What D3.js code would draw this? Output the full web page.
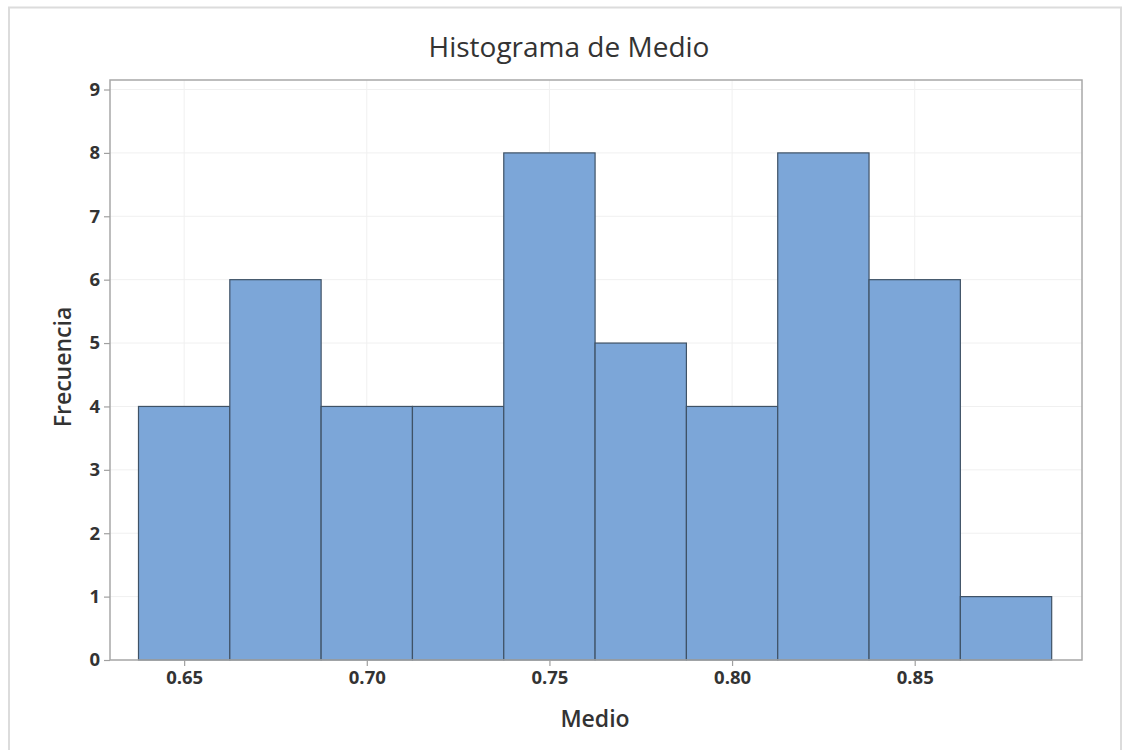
<!DOCTYPE html>
<html><head><meta charset="utf-8">
<script src="https://cdn.jsdelivr.net/npm/d3@7"></script>
<style>body{margin:0;background:#fff}svg{display:block}</style>
</head><body><svg id="c" width="1126" height="750"></svg>
<script>
const binCenters = [0.65,0.675,0.70,0.725,0.75,0.775,0.80,0.825,0.85,0.875];
const counts = [4,6,4,4,8,5,4,8,6,1];
const binWidth = 0.025;
const xTicks = [0.65,0.70,0.75,0.80,0.85];
const yTicks = [0,1,2,3,4,5,6,7,8,9];
const title = "Histograma de Medio";
const xTitle = "Medio";
const yTitle = "Frecuencia";

const svg = d3.select("#c");
const font = "'Open Sans', 'Noto Sans', sans-serif";
const L=110, R=1082, T=80, B=660;
const x = d3.scaleLinear().domain([0.6297,0.8958]).range([L,R]);
const y = d3.scaleLinear().domain([0,9.15]).range([B,T]);

// outer frame
svg.append("rect").attr("x",9).attr("y",7.5).attr("width",1112).attr("height",760)
  .attr("fill","none").attr("stroke","#dcdcdc").attr("stroke-width",2);

// grid
const g = svg.append("g");
g.selectAll(".gy").data(yTicks).join("line")
  .attr("x1",L).attr("x2",R).attr("y1",d=>y(d)).attr("y2",d=>y(d))
  .attr("stroke","#f0f0f0").attr("stroke-width",1);
g.selectAll(".gx").data(xTicks).join("line")
  .attr("y1",T).attr("y2",B).attr("x1",d=>x(d)).attr("x2",d=>x(d))
  .attr("stroke","#f0f0f0").attr("stroke-width",1);

// bars
svg.append("g").selectAll("rect").data(binCenters).join("rect")
  .attr("x",d=>x(d-binWidth/2))
  .attr("width",d=>x(d+binWidth/2)-x(d-binWidth/2))
  .attr("y",(d,i)=>y(counts[i]))
  .attr("height",(d,i)=>y(0)-y(counts[i]))
  .attr("fill","#7ca6d8").attr("stroke","#3f5266").attr("stroke-width",1.2);

// frame
svg.append("rect").attr("x",L).attr("y",T).attr("width",R-L).attr("height",B-T)
  .attr("fill","none").attr("stroke","#a8a8a8").attr("stroke-width",1.5);

// axes
const yAxis = svg.append("g").attr("transform",`translate(${L},0)`)
  .call(d3.axisLeft(y).tickValues(yTicks).tickSize(6).tickPadding(4).tickFormat(d3.format("d")));
const xAxis = svg.append("g").attr("transform",`translate(0,${B})`)
  .call(d3.axisBottom(x).tickValues(xTicks).tickSize(6).tickPadding(5).tickFormat(d3.format(".2f")));
[xAxis,yAxis].forEach(a=>{
  a.select(".domain").remove();
  a.selectAll(".tick line").attr("stroke","#a0a0a0").attr("stroke-width",1.2);
  a.selectAll(".tick text").attr("fill","#333").style("font-family",font)
    .style("font-size","18.5px").style("font-weight","700");
});

// titles
svg.append("text").attr("x",569).attr("y",57).attr("text-anchor","middle")
  .attr("fill","#333").style("font-family",font).style("font-size","28px").style("font-weight","500").text(title);
svg.append("text").attr("x",595).attr("y",727).attr("text-anchor","middle")
  .attr("fill","#333").style("font-family",font).style("font-size","23px").style("font-weight","600").text(xTitle);
svg.append("text").attr("transform","translate(71,367) rotate(-90)").attr("text-anchor","middle")
  .attr("fill","#333").style("font-family",font).style("font-size","23px").style("font-weight","600").text(yTitle);
</script></body></html>
